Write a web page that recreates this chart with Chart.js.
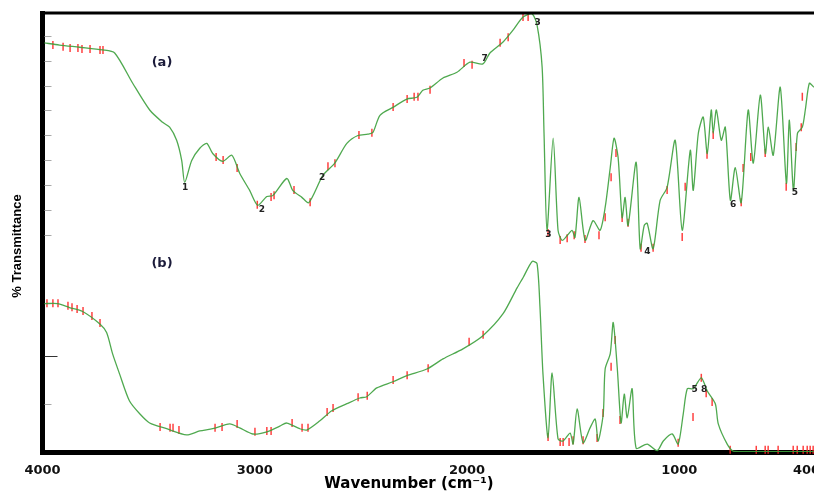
<!DOCTYPE html>
<html>
<head>
<meta charset="utf-8">
<script src="https://cdn.jsdelivr.net/npm/chart.js@4/dist/chart.umd.min.js"></script>
<style>
  html, body { margin: 0; padding: 0; background: #fff; }
  #wrap { width: 814px; height: 494px; }
</style>
</head>
<body>
<div id="wrap"><canvas id="c" width="814" height="494"></canvas></div>
<script>
// spectrum (a): wavenumber / %T
const aWave = [3991,3920,3825,3717,3660,3575,3495,3434,3401,3368,3344,3330,3297,3259,3226,3198,3151,3108,3071,3024,2986,2943,2915,2849,2821,2778,2745,2679,2623,2566,2514,2467,2443,2410,2349,2283,2236,2208,2175,2113,2047,1986,1925,1892,1830,1783,1736,1693,1670,1646,1637,1623,1594,1571,1552,1528,1505,1491,1472,1443,1406,1373,1349,1325,1307,1288,1269,1255,1241,1203,1184,1165,1151,1123,1090,1057,1019,986,948,934,910,887,868,849,840,825,802,783,759,736,708,675,651,618,594,580,557,524,495,481,462,443,420,406,387,366];
const aTrans = [93.2,92.7,92.2,91.6,90.9,84.0,77.9,75.1,74.0,71.0,66.4,61.4,66.4,69.2,70.3,68.0,66.2,67.6,63.5,59.6,56.2,58.2,58.4,62.3,59.6,58.0,56.8,63.0,65.8,70.3,72.1,72.4,72.8,76.7,78.5,80.4,80.8,82.4,82.9,85.2,86.5,88.8,88.4,90.9,93.4,96.1,99.1,99.8,97.3,87.7,72.6,50.5,71.5,50.5,48.2,49.3,50.5,48.9,58.0,48.2,52.7,50.5,55.7,64.8,71.5,67.1,53.4,58.0,51.6,66.0,46.3,51.6,52.1,46.3,57.3,60.3,71.0,50.5,68.7,59.6,72.6,76.3,68.0,77.9,72.6,77.9,71.0,74.0,57.3,64.8,56.8,77.9,65.8,81.3,68.0,74.0,67.6,83.1,61.2,75.6,59.6,72.6,74.0,77.9,84.0,83.1];

// spectrum (b)
const bWave = [3991,3929,3873,3811,3731,3698,3670,3637,3590,3542,3495,3415,3321,3259,3198,3118,3071,3009,2943,2882,2849,2788,2755,2693,2637,2566,2505,2472,2425,2349,2283,2189,2113,2019,1925,1830,1764,1736,1693,1670,1656,1642,1618,1599,1571,1547,1514,1500,1481,1453,1420,1396,1382,1358,1349,1325,1311,1292,1274,1259,1245,1222,1203,1151,1104,1075,1033,1005,981,962,934,896,868,830,816,774,745,679,366];
const bTrans = [33.8,33.8,32.9,32.0,29.2,27.2,22.4,17.8,11.6,8.7,6.6,5.3,3.9,4.8,5.3,6.4,5.5,4.1,4.6,5.9,6.6,5.3,5.0,7.1,9.4,11.0,12.3,12.6,14.6,16.0,17.4,18.9,21.2,23.5,26.5,31.5,37.4,39.7,43.4,42.9,32.9,17.8,3.2,18.0,3.0,2.5,4.3,1.8,9.8,2.1,5.5,7.5,2.5,8.7,18.9,22.4,29.5,19.2,6.6,13.2,7.8,14.4,0.9,1.8,0.3,2.5,4.1,1.8,8.7,14.4,14.4,16.9,13.9,11.0,6.4,1.8,0.2,0.1,0.1];

// red peak-pick markers
const aMarkWave = [3951,3903,3870,3833,3814,3776,3729,3715,3182,3149,3083,2988,2923,2909,2815,2739,2655,2622,2509,2448,2348,2282,2249,2231,2174,2014,1976,1844,1806,1736,1712,1618,1561,1528,1495,1444,1378,1349,1321,1298,1269,1241,1180,1123,1057,986,972,869,840,708,699,663,595,496,449,425,420];
const aMarkTrans = [92.7,92.3,92.0,92.0,91.8,91.8,91.6,91.6,67.2,66.5,64.7,56.3,58.1,58.5,59.7,56.9,65.1,65.8,72.2,72.7,78.6,80.4,80.9,80.9,82.5,88.6,88.2,93.2,94.5,99.1,99.1,49.9,48.3,48.7,49.4,48.5,49.4,53.5,62.6,68.1,53.3,52.2,46.5,46.5,59.7,49.0,60.4,67.7,72.2,56.9,64.7,67.2,68.1,60.4,69.5,74.0,80.9];
const bMarkWave = [3979,3951,3927,3880,3861,3837,3809,3767,3729,3446,3399,3385,3357,3187,3154,3083,2999,2943,2923,2824,2777,2749,2659,2631,2513,2470,2348,2282,2183,1990,1924,1618,1561,1547,1519,1500,1453,1387,1359,1321,1302,1279,1005,935,896,873,845,760,637,595,581,534,463,444,416,397,383,369];
const bMarkTrans = [33.9,33.9,33.9,33.3,33.0,32.6,32.1,31.0,29.4,5.7,5.5,5.5,5.0,5.5,5.7,6.4,4.6,4.8,4.8,6.6,5.5,5.5,9.1,10.0,12.5,12.8,16.4,17.5,19.1,25.1,26.7,3.4,2.3,2.3,2.3,2.7,2.7,3.2,8.9,19.4,25.5,7.3,2.1,8.0,16.9,13.4,11.4,0.5,0.5,0.5,0.5,0.5,0.5,0.5,0.5,0.5,0.5,0.5];

// peak numbers and panel labels
const peakLabels = [
  { x: 3328, y: 60.2, text: '1' },
  { x: 2966, y: 55.2, text: '2' },
  { x: 2683, y: 62.6, text: '2' },
  { x: 1667, y: 97.8, text: '3' },
  { x: 1616, y: 49.6, text: '3' },
  { x: 1150, y: 45.6, text: '4' },
  { x: 1917, y: 89.6, text: '7' },
  { x: 746, y: 56.4, text: '6' },
  { x: 455, y: 59.0, text: '5' },
  { x: 905, y: 14.2, text: '5 8' }
];
const panelLabels = [
  { x: 3437, y: 88.6, text: '(a)' },
  { x: 3437, y: 42.8, text: '(b)' }
];
const xTicks = [4000, 3000, 2000, 1000, 400];
const yTickMarks = [94.8, 89.1, 83.4, 77.9, 72.2, 66.5, 60.8, 55.1, 49.4, 21.9, 10.9];

const pts = (xs, ys) => xs.map((x, i) => ({ x, y: ys[i] }));

const LINE = 'rgba(60,160,60,0.9)';
const MARK = 'rgba(255,30,30,0.85)';

const frame = {
  id: 'frame',
  afterDraw(chart) {
    const { ctx, chartArea: a, scales } = chart;
    ctx.save();
    // top border
    ctx.strokeStyle = '#000';
    ctx.lineWidth = 3;
    ctx.beginPath(); ctx.moveTo(a.left - 2, a.top); ctx.lineTo(chart.width, a.top); ctx.stroke();
    // inner y tick marks
    ctx.lineWidth = 1;
    yTickMarks.forEach((v, i) => {
      const y = Math.round(scales.y.getPixelForValue(v)) + 0.5;
      ctx.strokeStyle = i === 9 ? '#333' : '#aaa';
      ctx.beginPath(); ctx.moveTo(a.left + 2, y); ctx.lineTo(a.left + (i === 9 ? 15 : 9), y); ctx.stroke();
    });
    // labels
    ctx.textAlign = 'center'; ctx.textBaseline = 'middle';
    ctx.fillStyle = '#1b1b3a';
    ctx.font = 'bold 13px "DejaVu Sans", sans-serif';
    panelLabels.forEach(l => ctx.fillText(l.text, scales.x.getPixelForValue(l.x), scales.y.getPixelForValue(l.y)));
    ctx.font = 'bold 9px "DejaVu Sans", sans-serif';
    ctx.fillStyle = '#222';
    peakLabels.forEach(l => ctx.fillText(l.text, scales.x.getPixelForValue(l.x), scales.y.getPixelForValue(l.y)));
    // axis titles
    ctx.fillStyle = '#000';
    ctx.font = 'bold 15px "DejaVu Sans", sans-serif';
    ctx.fillText('Wavenumber (cm\u207B\u00B9)', 409, 484);
    ctx.save();
    ctx.translate(17, 246);
    ctx.rotate(-Math.PI / 2);
    ctx.font = 'bold 13px "Liberation Sans Narrow", Arial, sans-serif';
    ctx.fillText('% Transmittance', 0, 0);
    ctx.restore();
    ctx.restore();
  }
};

new Chart(document.getElementById('c'), {
  type: 'scatter',
  data: {
    datasets: [
      { data: pts(aWave, aTrans), showLine: true, borderColor: LINE, borderWidth: 1.3, pointRadius: 0, tension: 0.25 },
      { data: pts(bWave, bTrans), showLine: true, borderColor: LINE, borderWidth: 1.3, pointRadius: 0, tension: 0.25 },
      { data: pts(aMarkWave, aMarkTrans), pointStyle: 'line', rotation: 90, radius: 4, borderColor: MARK, borderWidth: 1.5, backgroundColor: MARK },
      { data: pts(bMarkWave, bMarkTrans), pointStyle: 'line', rotation: 90, radius: 4, borderColor: MARK, borderWidth: 1.5, backgroundColor: MARK, clip: false }
    ]
  },
  options: {
    responsive: false,
    animation: false,
    layout: { autoPadding: false, padding: { top: 13, right: 0, left: 0, bottom: 0 } },
    plugins: { legend: { display: false }, tooltip: { enabled: false } },
    scales: {
      x: {
        type: 'linear', reverse: true, min: 365, max: 4000,
        afterBuildTicks: s => { s.ticks = xTicks.map(v => ({ value: v })); },
        afterFit: s => { s.height = 42; s.paddingLeft = 0; s.paddingRight = 0; },
        grid: { display: false, drawTicks: false },
        border: { display: true, color: '#000', width: 5 },
        ticks: { padding: 11, color: '#111', font: { family: 'DejaVu Sans', weight: 'bold', size: 13 }, maxRotation: 0, autoSkip: false, callback: v => String(v) }
      },
      y: {
        min: 0, max: 100,
        afterFit: s => { s.width = 42.5; s.paddingTop = 0; s.paddingBottom = 0; },
        grid: { display: false, drawTicks: false },
        border: { display: true, color: '#000', width: 5 },
        ticks: { display: false }
      }
    }
  },
  plugins: [frame]
});
</script>
</body>
</html>
